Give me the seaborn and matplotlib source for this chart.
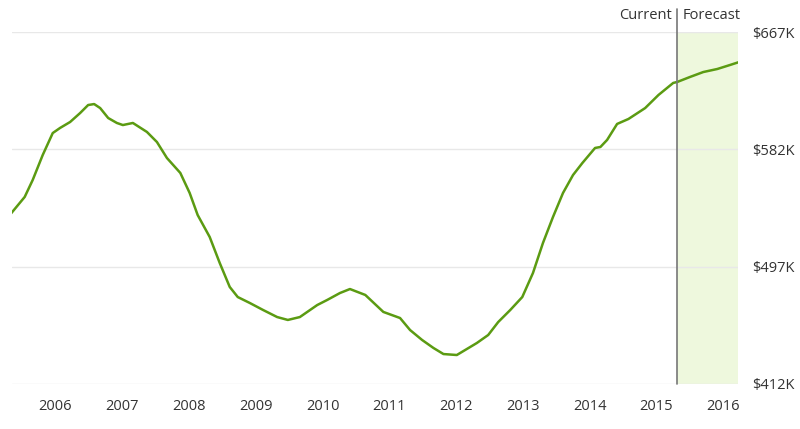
import pandas as pd
import matplotlib
matplotlib.use('Agg')
import matplotlib.pyplot as plt
import seaborn as sns

# values (year as decimal, price in $K)
years = [2005.33, 2005.54, 2005.66, 2005.81, 2005.96, 2006.07, 2006.22, 2006.37,
         2006.49, 2006.58, 2006.67, 2006.79, 2006.92, 2007.01, 2007.16, 2007.37,
         2007.52, 2007.67, 2007.87, 2008.01, 2008.13, 2008.31, 2008.46, 2008.61,
         2008.73, 2008.91, 2009.11, 2009.32, 2009.48, 2009.66, 2009.92, 2010.07,
         2010.26, 2010.41, 2010.64, 2010.91, 2011.16, 2011.31, 2011.49, 2011.66,
         2011.81, 2012.01, 2012.31, 2012.48, 2012.63, 2012.81, 2012.99, 2013.15,
         2013.30, 2013.45, 2013.60, 2013.75, 2013.89, 2014.08, 2014.16, 2014.26,
         2014.41, 2014.58, 2014.83, 2015.03, 2015.25, 2015.31, 2015.50, 2015.70,
         2015.91, 2016.10, 2016.24]
values = [535.2, 547.5, 559.8, 577.9, 593.8, 597.5, 601.8, 608.3,
          614.1, 614.8, 611.9, 604.7, 601.1, 599.6, 601.1, 594.6,
          587.3, 575.7, 564.9, 550.4, 534.4, 518.5, 499.7, 482.3,
          475.0, 470.7, 465.6, 460.5, 458.4, 460.5, 469.2, 472.9,
          477.9, 480.8, 476.5, 464.2, 459.8, 451.1, 443.9, 438.1,
          433.7, 433.0, 441.7, 447.5, 456.9, 465.6, 475.0, 492.4,
          514.2, 533.0, 550.4, 563.4, 572.1, 583.0, 583.7, 588.8,
          600.4, 604.0, 611.9, 621.4, 630.1, 630.8, 634.4, 638.0,
          640.2, 643.1, 645.3]
year_ticks = [2006, 2007, 2008, 2009, 2010, 2011, 2012, 2013, 2014, 2015, 2016]
price_ticks = [412, 497, 582, 667]
current = 2015.31
x_start, x_end = 2005.35, 2016.22

df = pd.DataFrame({'year': years, 'value': values})

sns.set_style('white')
plt.rcParams['font.family'] = ['Open Sans', 'DejaVu Sans']

fig = plt.figure(figsize=(8, 4.29), dpi=100)
ax = fig.add_axes([0.015, 0.1049, 0.9075, 0.8205])

ax.axvspan(current, x_end, color='#eef8dd', zorder=0, lw=0)
for p in price_ticks:
    ax.axhline(p, color='#e8e8e8', lw=1, zorder=1)
sns.lineplot(data=df, x='year', y='value', ax=ax, color='#5b9b12', lw=1.8, zorder=3)
ax.axvline(current, ymin=0, ymax=1.065, color='#777777', lw=1.2, zorder=4, clip_on=False)

ax.set_xlim(x_start, x_end)
ax.set_ylim(price_ticks[0], price_ticks[-1])
ax.set_xticks(year_ticks)
ax.set_xticklabels([str(y) for y in year_ticks])
ax.set_yticks(price_ticks)
ax.set_yticklabels(['$%dK' % p for p in price_ticks])
ax.yaxis.tick_right()
ax.tick_params(axis='both', length=0, labelsize=10.5, colors='#333333')
ax.tick_params(axis='x', pad=11)
ax.tick_params(axis='y', pad=10)
ax.set_xlabel('')
ax.set_ylabel('')
for s in ax.spines.values():
    s.set_visible(False)

ax.text(current - 0.08, 1.047, 'Current', transform=ax.get_xaxis_transform(),
        ha='right', va='center', fontsize=10.5, color='#333333')
ax.text(current + 0.08, 1.047, 'Forecast', transform=ax.get_xaxis_transform(),
        ha='left', va='center', fontsize=10.5, color='#333333')

fig.savefig('out.png', dpi=100)
